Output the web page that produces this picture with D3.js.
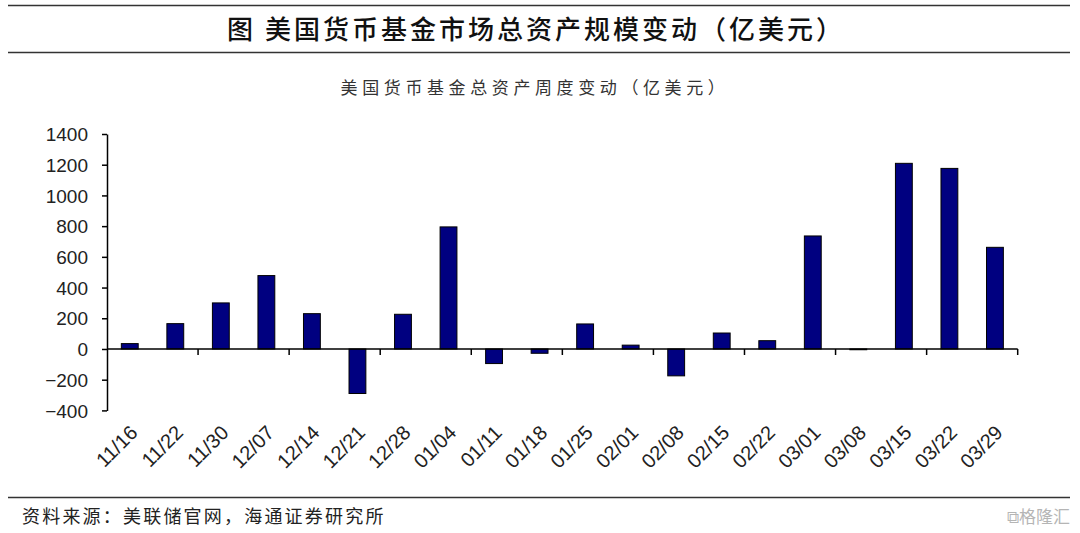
<!DOCTYPE html>
<html><head><meta charset="utf-8">
<script src="https://cdn.jsdelivr.net/npm/d3@7"></script>
<style>
html,body{margin:0;padding:0;background:#fff;}
svg{display:block;}
</style></head>
<body>
<svg id="c" width="1080" height="533"></svg>
<script>
const categories = ["11/16","11/22","11/30","12/07","12/14","12/21","12/28","01/04","01/11","01/18","01/25","02/01","02/08","02/15","02/22","03/01","03/08","03/15","03/22","03/29"];
const values = [35,165,300,478,230,-290,226,795,-95,-28,163,25,-175,104,54,736,-5,1209,1176,662];
const yTicks = [-400,-200,0,200,400,600,800,1000,1200,1400];
const title = "图  美国货币基金市场总资产规模变动（亿美元）";
const subtitle = "美国货币基金总资产周度变动（亿美元）";
const source = "资料来源：美联储官网，海通证券研究所";

const svg = d3.select("#c");
const cjk = "'Noto Sans CJK SC','Noto Sans',sans-serif";
const lat = "'Liberation Sans',Arial,sans-serif";

// frame lines
svg.append("line").attr("x1",8).attr("x2",1070).attr("y1",5.5).attr("y2",5.5).attr("stroke","#333").attr("stroke-width",1.5);
svg.append("line").attr("x1",8).attr("x2",1070).attr("y1",52.5).attr("y2",52.5).attr("stroke","#333").attr("stroke-width",1.5);
svg.append("line").attr("x1",8).attr("x2",1070).attr("y1",497.5).attr("y2",497.5).attr("stroke","#333").attr("stroke-width",1.5);

svg.append("text").attr("x",536).attr("y",39).attr("text-anchor","middle")
  .attr("font-family",cjk).attr("font-size",26).attr("font-weight",500).attr("letter-spacing",3).attr("fill","#111").text(title);
svg.append("text").attr("x",535).attr("y",94).attr("text-anchor","middle")
  .attr("font-family",cjk).attr("font-size",17).attr("letter-spacing",4.6).attr("fill","#333").text(subtitle);
svg.append("text").attr("x",22).attr("y",523)
  .attr("font-family",cjk).attr("font-size",18).attr("letter-spacing",2.2).attr("fill","#222").text(source);
svg.append("text").attr("x",1070).attr("y",523).attr("text-anchor","end")
  .attr("font-family",cjk).attr("font-size",17).attr("fill","#b5b5b5").text("⧉格隆汇");

const x = d3.scaleBand().domain(categories).range([107,1017.7]).paddingInner(0.63).paddingOuter(0.315);
const y = d3.scaleLinear().domain([-400,1400]).range([410.4,134]);

// bars
svg.append("g").selectAll("rect").data(values).join("rect")
  .attr("x",(d,i)=>x(categories[i]))
  .attr("width",x.bandwidth())
  .attr("y",d=>y(Math.max(0,d)))
  .attr("height",d=>Math.abs(y(d)-y(0)))
  .attr("fill","#000080").attr("stroke","#000").attr("stroke-width",1);

// y axis
const ya = svg.append("g").attr("transform","translate(107,0)")
  .call(d3.axisLeft(y).tickValues(yTicks).tickSize(5).tickSizeOuter(0).tickFormat(d3.format("d")));
ya.select(".domain").attr("stroke","#000").attr("stroke-width",1.5);
ya.selectAll(".tick line").attr("stroke","#000").attr("stroke-width",1.5);
ya.selectAll(".tick text").attr("font-family",lat).attr("font-size",19).attr("fill","#222").attr("x",-19).attr("dy","0.35em");

// x axis at zero
const xBound = d3.range(2, categories.length+1, 2).map(k=>107 + k*(1017.7-107)/categories.length);
const xa = svg.append("g");
xa.append("line").attr("x1",107).attr("x2",1017.7).attr("y1",y(0)).attr("y2",y(0)).attr("stroke","#000").attr("stroke-width",1.5);
xa.selectAll("line.t").data(xBound).join("line").attr("class","t")
  .attr("x1",d=>d).attr("x2",d=>d).attr("y1",y(0)).attr("y2",y(0)+6).attr("stroke","#000").attr("stroke-width",1.5);

svg.append("g").selectAll("text").data(categories).join("text")
  .attr("transform",d=>`translate(${x(d)+x.bandwidth()/2+9},${434}) rotate(-45)`)
  .attr("text-anchor","end").attr("font-family",lat).attr("font-size",20).attr("fill","#222").text(d=>d);
</script>
</body></html>
